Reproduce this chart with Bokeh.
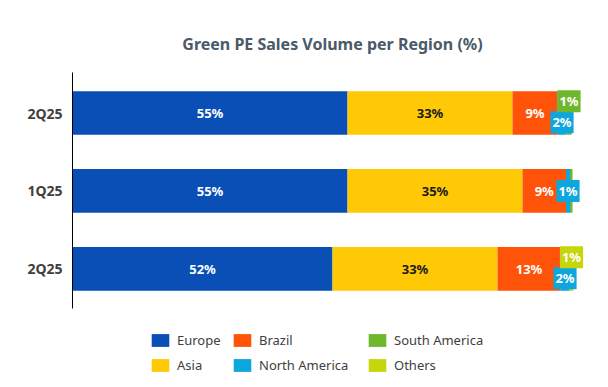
from bokeh.plotting import figure
from bokeh.models import ColumnDataSource, Legend, LegendItem
from bokeh.core.properties import value, field
from bokeh.embed import file_html
from bokeh.resources import INLINE

# ---- data (top bar first) ----
periods = ["2Q25", "1Q25", "2Q25"]
europe = [55.0, 55.0, 52.0]
asia = [33.0, 35.0, 33.0]
brazil = [9.0, 8.7, 12.6]
north_america = [1.8, 0.8, 1.8]
south_america = [1.0, 0.5, 0.0]
others = [0.0, 0.0, 0.8]

series_names = ["Europe", "Asia", "Brazil", "North America", "South America", "Others"]
series_values = [europe, asia, brazil, north_america, south_america, others]
series_colors = ["#0A4FB6", "#FFC906", "#FF530A", "#0DA6DD", "#6FB72D", "#C5D60C"]
label_colors = ["white", "#1A1A1A", "white", "white", "white", "white"]

FONT = value("Noto Sans")
ys = list(range(len(periods)))[::-1]

data = {"y": ys}
keys = []
for n, v in zip(series_names, series_values):
    k = n.replace(" ", "_")
    keys.append(k)
    data[k] = v
source = ColumnDataSource(data)

AX_LO, AX_HI = -0.51, 2.52
p = figure(width=600, height=385, output_backend="svg", toolbar_location=None,
           x_range=(0, 104), y_range=(-1.433, AX_HI), x_axis_location=None,
           min_border_left=72, min_border_right=8, min_border_top=72, min_border_bottom=5,
           title="Green PE Sales Volume per Region (%)")
p.outline_line_color = None
p.grid.visible = False
p.title.align = "center"
p.title.text_font = "Noto Sans"
p.title.text_font_size = "16px"
p.title.text_font_style = "bold"
p.title.text_color = "#4A5A68"
p.title.standoff = 36

renderers = p.hbar_stack(keys, y="y", height=0.56, color=series_colors, source=source,
                         line_color=None)

# y axis
p.yaxis.bounds = (AX_LO, AX_HI)
p.yaxis.ticker = ys
p.yaxis.major_label_overrides = {y: lab for y, lab in zip(ys, periods)}
p.yaxis.axis_line_color = "black"
p.yaxis.axis_line_width = 1
p.yaxis.major_tick_line_color = None
p.yaxis.major_tick_out = 0
p.yaxis.major_tick_in = 0
p.yaxis.minor_tick_line_color = None
p.yaxis.minor_tick_out = 0
p.yaxis.major_label_text_font = "Noto Sans"
p.yaxis.major_label_text_font_style = "bold"
p.yaxis.major_label_text_font_size = "14px"
p.yaxis.major_label_text_color = "#404040"
p.yaxis.major_label_standoff = 10

# labels
in_x, in_y, in_t, in_c = [], [], [], []
co_x, co_y, co_t, co_bg = [], [], [], []
for i, yv in enumerate(ys):
    left = 0.0
    smalls = []
    for vals, col, tcol in zip(series_values, series_colors, label_colors):
        v = vals[i]
        if v >= 3:
            in_x.append(left + v / 2)
            in_y.append(yv)
            in_t.append(f"{round(v)}%")
            in_c.append(tcol)
        elif v >= 0.75:
            smalls.append((left + v / 2, f"{round(v)}%", col))
        left += v
    offs = [0.0] if len(smalls) == 1 else [-0.12, 0.15]
    for (x, t, c), o in zip(smalls, offs):
        co_x.append(x)
        co_y.append(yv + o)
        co_t.append(t)
        co_bg.append(c)

p.text(x=in_x, y=in_y, text=in_t, text_color=in_c, text_align="center",
       text_baseline="middle", text_font=FONT, text_font_style="bold", text_font_size="13px")

co_src = ColumnDataSource(dict(x=co_x, y=co_y, t=co_t, bg=co_bg))
p.text(x="x", y="y", text="t", source=co_src, text_color="white", text_align="center",
       text_baseline="middle", text_font=FONT, text_font_style="bold", text_font_size="13px",
       background_fill_color=field("bg"), padding=2)

items = [LegendItem(label=n, renderers=[r]) for n, r in zip(series_names, renderers)]
legend_style = dict(glyph_width=22, glyph_height=16, label_standoff=6, spacing=7,
                    label_text_font="Noto Sans", label_text_font_size="13px",
                    label_text_color="#404040", border_line_color=None,
                    background_fill_alpha=0, padding=0, margin=0, label_height=16)
legend_a = Legend(items=items[:4], location=(77, 6), ncols=2, label_width=47, **legend_style)
legend_b = Legend(items=items[4:], location=(294, 6), ncols=1, **legend_style)
p.add_layout(legend_a, "center")
p.add_layout(legend_b, "center")

open("out.html", "w").write(file_html(p, INLINE))
